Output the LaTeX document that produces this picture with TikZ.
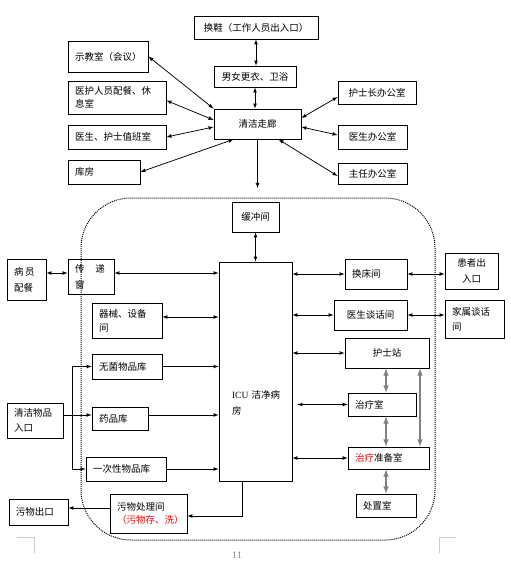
\documentclass[tikz,border=0pt]{standalone}
\usepackage{fontspec}
\setmainfont{Liberation Serif}
\newfontfamily\cjk{Noto Sans CJK SC}

\begin{document}
\begin{tikzpicture}[x=1pt, y=-1pt, room/.style={draw, line width=0.8pt, inner xsep=7pt, inner ysep=0pt, align=left, font=\cjk\fontsize{9.5}{13}\selectfont}, mid/.style={room, align=center}, n/.style={-latex, line width=0.75pt}, d/.style={latex-latex, line width=0.75pt}, g/.style={latex-latex, line width=1.5pt, draw=gray}, zone/.style={line width=1pt, dash pattern=on 1pt off 1pt, rounded corners=50pt}, cropline/.style={gray!40, line width=0.8pt}]
    \useasboundingbox (0,0) rectangle (511,573);
    % nodes, outside
    \node[mid, text width=110pt, minimum height=23pt] (shoe) at (256,27.5) {换鞋（工作人员出入口）};
    \node[mid, text width=68pt, minimum height=21pt] (change) at (255,76.5) {男女更衣、卫浴};
    \node[mid, text width=73pt, minimum height=30pt] (corridor) at (257.5,124) {清洁走廊};
    \node[room, text width=66pt, minimum height=31pt] (teach) at (108,56.5) {示教室（会议）};
    \node[room, text width=84pt, minimum height=33pt] (staff) at (117,97.5) {医护人员配餐、休\\息室};
    \node[room, text width=84pt, minimum height=24pt] (duty) at (117,137) {医生、护士值班室};
    \node[room, text width=58pt, minimum height=24pt] (store) at (104,172) {库房};
    \node[mid, text width=64pt, minimum height=23pt] (headnurse) at (377,92.5) {护士长办公室};
    \node[mid, text width=55pt, minimum height=24pt] (docoffice) at (372.5,137) {医生办公室};
    \node[mid, text width=55pt, minimum height=21pt] (director) at (372.5,173.5) {主任办公室};
    \coordinate (into) at (257,188);

    % nodes, clean zone
    \draw[zone] (81,198) rectangle (435,540);
    \node[mid, text width=33pt, minimum height=30pt] (buffer) at (255.5,217) {缓冲间};
    \node[room, inner xsep=13pt, text width=47pt, text height=136pt, text depth=83pt] (icu) at (255.5,371.5) {{\rmfamily ICU}~洁净病\\[3pt]房};
    \node[room, text width=25pt, minimum height=41pt] (meal) at (26.5,279.5) {病\,员\\[3pt]配餐};
    \node[room, text width=32pt, minimum height=35pt] (pass) at (91,276.5) {传\hspace{11pt}递\\[3pt]窗};
    \node[room, text width=56pt, minimum height=35pt] (equip) at (127,320.5) {器械、设备\\[1pt]间};
    \node[room, text width=56pt, minimum height=25pt] (sterile) at (127,366.5) {无菌物品库};
    \node[room, text width=42pt, minimum height=35pt] (clean) at (35,420.5) {清洁物品\\[2pt]入口};
    \node[room, text width=42pt, minimum height=23pt] (drug) at (120,418.5) {药品库};
    \node[room, text width=66pt, minimum height=24pt] (dispos) at (126,469) {一次性物品库};
    \node[room, text width=63pt, minimum height=39pt] (dirty) at (148.5,513.5) {污物处理间\\{\color{red}（污物存、洗）}};
    \node[room, text width=45pt, minimum height=26pt] (dirtyexit) at (38.5,512) {污物出口};
    \node[room, text width=48pt, minimum height=30pt] (bedchg) at (376,274) {换床间};
    \node[mid, text width=39pt, minimum height=36pt] (patient) at (471.5,271) {患者出\\[3pt]入口};
    \node[mid, text width=59pt, minimum height=30pt] (talk) at (370.5,315) {医生谈话间};
    \node[room, text width=45pt, minimum height=38pt] (family) at (474.5,319) {家属谈话\\[2pt]间};
    \node[mid, text width=70pt, minimum height=30pt] (nurse) at (387,353) {护士站};
    \node[room, text width=54pt, minimum height=23pt] (treat) at (382,404.5) {治疗室};
    \node[room, text width=67pt, minimum height=22pt] (prep) at (388.5,458) {{\color{red}治疗}准备室};
    \node[room, text width=46pt, minimum height=23pt] (dispose) at (386,505.5) {处置室};
    \coordinate (trunk) at (72,0);
    \coordinate (spine) at (386,0);
    \coordinate (side) at (420,0);

    % edges, corridor
    \draw[d] (shoe.south) -- (shoe.south |- change.north);
    \draw[d] (change.south) -- (change.south |- corridor.north);
    \draw[n] (corridor.south) -- (corridor.south |- into);
    \draw[d] (teach.east) -- (corridor.north west);
    \draw[d] ([yshift=-3pt]staff.east) -- ([yshift=4pt]corridor.west);
    \draw[d] (duty.east) -- ([yshift=-3pt]corridor.west);
    \draw[d] (store.east) -- ([xshift=-24pt]corridor.south);
    \draw[d] ([yshift=6pt]corridor.east) -- ([yshift=-4.5pt]headnurse.west);
    \draw[d] ([yshift=-3pt]corridor.east) -- ([yshift=2pt]docoffice.west);
    \draw[d] ([xshift=21pt]corridor.south) -- ([yshift=-2.5pt]director.west);

    % edges, left of icu
    \draw[d] (buffer.south) -- (buffer.south |- icu.north);
    \draw[d] ([yshift=3.5pt]pass.west) -- ([yshift=3.5pt]pass.west -| meal.east);
    \draw[d] ([yshift=3.5pt]pass.east) -- ([yshift=3.5pt]pass.east -| icu.west);
    \draw[d] ([yshift=3.5pt]equip.east) -- ([yshift=3.5pt]equip.east -| icu.west);
    \draw[n] (sterile.east) -- (sterile.east -| icu.west);
    \draw[n] ([yshift=3.5pt]drug.east) -- ([yshift=3.5pt]drug.east -| icu.west);
    \draw[n] (dispos.east) -- (dispos.east -| icu.west);
    \draw[n] ([yshift=3.5pt]drug.west -| clean.east) -- ([yshift=3.5pt]drug.west);
    \draw[n] (sterile.west -| trunk) -- (sterile.west);
    \draw[n] (sterile.west -| trunk) |- (dispos.west);
    \draw[n] ([xshift=-13.5pt]icu.south) |- ([yshift=-2.5pt]dirty.east);
    \draw[n] ([yshift=5.5pt]dirty.west) -- ([yshift=5.5pt]dirty.west -| dirtyexit.east);

    % edges, right of icu
    \draw[d] (bedchg.west -| icu.east) -- (bedchg.west);
    \draw[d] (bedchg.east) -- (bedchg.east -| patient.west);
    \draw[d] (talk.west -| icu.east) -- (talk.west);
    \draw[d] (talk.east) -- (talk.east -| family.west);
    \draw[d] (nurse.west -| icu.east) -- (nurse.west);
    \draw[d] ([xshift=5pt]treat.west -| icu.east) -- (treat.west);
    \draw[d] (prep.west -| icu.east) -- (prep.west);
    \draw[g] (nurse.south -| spine) -- (treat.north -| spine);
    \draw[g] (treat.south -| spine) -- (prep.north -| spine);
    \draw[g] (prep.south -| spine) -- (dispose.north -| spine);
    \draw[g] (nurse.south -| side) -- (prep.north -| side);

    % page marks
    \draw[cropline] (17,537) -- (34,537) -- (34,553);
    \draw[cropline] (456,537) -- (439,537) -- (439,553);
    \node[gray, font=\fontsize{10}{11}\selectfont] (pageno) at (237,555) {11};
\end{tikzpicture}
\end{document}
